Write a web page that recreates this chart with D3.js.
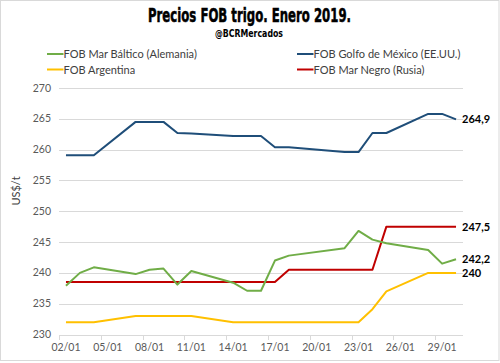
<!DOCTYPE html>
<html>
  <head>
    <meta charset="utf-8">
    <title>Precios FOB trigo</title>
    <script src="https://cdn.jsdelivr.net/npm/d3@7"></script>
    <style>
      body { margin: 0; background: #fff; }
      svg { display: block; font-family: Lato, "Open Sans", sans-serif; }
      .tick-label { font-size: 10.5px; fill: #595959; }
      .legend text { font-size: 11px; fill: #404040; }
      .end-label { font-size: 11px; font-weight: bold; fill: #000; }
    </style>
  </head>

  <body>
    <svg id="chart" width="500" height="363"></svg>

    <script>
      // every calendar day on the axis
      allDays = d3.range(2, 31).map(function(d) {
        return d3.format("02")(d) + "/01";
      });
      labelDays = ["02/01", "05/01", "08/01", "11/01", "14/01", "17/01", "20/01", "23/01", "26/01", "29/01"];

      // trading days with prices
      days = ["02/01", "03/01", "04/01", "07/01", "08/01", "09/01", "10/01", "11/01", "14/01", "15/01",
              "16/01", "17/01", "18/01", "21/01", "22/01", "23/01", "24/01", "25/01", "28/01", "29/01", "30/01"];

      baltico = [237.9, 240.0, 240.9, 239.8, 240.5, 240.7, 238.1, 240.3, 238.4, 237.1,
                 237.1, 242.0, 242.8, null, 244.0, 246.8, 245.4, 244.8, 243.7, 241.5, 242.2];
      golfo = [259.1, 259.1, 259.1, 264.5, 264.5, 264.5, 262.7, 262.6, 262.2, 262.2,
               262.2, 260.4, 260.4, null, 259.6, 259.6, 262.7, 262.7, 265.8, 265.8, 264.9];
      argentina = [232, 232, 232, 233, 233, 233, 233, 233, 232, 232,
                   232, 232, 232, 232, 232, 232, 234.1, 237.0, 240, 240, 240];
      negro = [238.5, 238.5, 238.5, 238.5, 238.5, 238.5, 238.5, 238.5, 238.5, 238.5,
               238.5, 238.5, 240.5, 240.5, 240.5, 240.5, 240.5, 247.5, 247.5, 247.5, 247.5];

      yTicks = [230, 235, 240, 245, 250, 255, 260, 265, 270];

      series = [
        {name: "FOB Mar Báltico (Alemania)", values: baltico, colour: "#70AD47"},
        {name: "FOB Golfo de México (EE.UU.)", values: golfo, colour: "#1F4E79"},
        {name: "FOB Argentina", values: argentina, colour: "#FFC000"},
        {name: "FOB Mar Negro (Rusia)", values: negro, colour: "#C00000"}
      ];

      svg = d3.select("#chart");

      // outer frame
      svg.append("rect")
        .attr("x", 0.5)
        .attr("y", 0.5)
        .attr("width", 498.5)
        .attr("height", 360)
        .attr("fill", "#fff")
        .attr("stroke", "#d9d9d9");

      // titles (condensed heavy face squeezed to the original width)
      svg.append("text")
        .attr("x", 148)
        .attr("y", 22)
        .attr("textLength", 203)
        .attr("lengthAdjust", "spacingAndGlyphs")
        .style("font-family", "'Liberation Sans Narrow', 'DejaVu Sans Condensed', sans-serif")
        .style("font-weight", "bold")
        .style("font-size", "19px")
        .style("fill", "#000")
        .style("stroke", "#000")
        .style("stroke-width", 0.5)
        .text("Precios FOB trigo. Enero 2019.");
      svg.append("text")
        .attr("x", 215)
        .attr("y", 36.5)
        .attr("textLength", 68)
        .attr("lengthAdjust", "spacingAndGlyphs")
        .style("font-family", "'Liberation Sans Narrow', 'DejaVu Sans Condensed', sans-serif")
        .style("font-weight", "bold")
        .style("font-size", "11px")
        .style("fill", "#000")
        .text("@BCRMercados");

      // scales
      x = d3.scaleBand()
        .domain(allDays)
        .range([59, 463]);
      xc = function(d) { return x(d) + x.bandwidth() / 2; };
      y = d3.scaleLinear()
        .domain([230, 270])
        .range([334.5, 88]);

      // gridlines
      svg.append("g")
        .selectAll("line")
        .data(yTicks.slice(1))
        .enter().append("line")
          .attr("x1", 59)
          .attr("x2", 463)
          .attr("y1", function(d) { return Math.round(y(d)) + 0.5; })
          .attr("y2", function(d) { return Math.round(y(d)) + 0.5; })
          .attr("stroke", "#d9d9d9");

      // y labels
      svg.append("g")
        .selectAll("text")
        .data(yTicks)
        .enter().append("text")
          .attr("class", "tick-label")
          .attr("x", 51)
          .attr("y", function(d) { return y(d) + 3.5; })
          .attr("text-anchor", "end")
          .text(function(d) { return d; });

      svg.append("text")
        .attr("transform", "translate(20, 191) rotate(-90)")
        .attr("text-anchor", "middle")
        .style("font-size", "11px")
        .style("fill", "#404040")
        .text("US$/t");

      // x axis
      xAxis = svg.append("g");
      xAxis.append("line")
        .attr("x1", 59)
        .attr("x2", 463)
        .attr("y1", Math.round(y(230)) + 0.5)
        .attr("y2", Math.round(y(230)) + 0.5)
        .attr("stroke", "#d9d9d9");
      xAxis.selectAll(".tick")
        .data(labelDays)
        .enter().append("line")
          .attr("class", "tick")
          .attr("x1", function(d) { return Math.round(x(d)) + 0.5; })
          .attr("x2", function(d) { return Math.round(x(d)) + 0.5; })
          .attr("y1", Math.round(y(230)))
          .attr("y2", Math.round(y(230)) + 5)
          .attr("stroke", "#d9d9d9");
      xAxis.selectAll("text")
        .data(labelDays)
        .enter().append("text")
          .attr("class", "tick-label")
          .attr("x", xc)
          .attr("y", 351)
          .attr("text-anchor", "middle")
          .text(function(d) { return d; });

      // lines
      line = d3.line()
        .x(function(d) { return xc(d.day); })
        .y(function(d) { return y(d.value); });

      series.forEach(function(s) {
        s.points = days.map(function(d, i) {
          return {day: d, value: s.values[i]};
        }).filter(function(d) {
          return d.value != null;
        });
      });

      // draw in original stacking order
      [series[3], series[2], series[0], series[1]].forEach(function(s) {
        svg.append("path")
          .datum(s.points)
          .attr("d", line)
          .attr("fill", "none")
          .attr("stroke", s.colour)
          .attr("stroke-width", 2)
          .attr("stroke-linejoin", "round");
      });

      // end labels
      svg.append("g")
        .selectAll("text")
        .data(series)
        .enter().append("text")
          .attr("class", "end-label")
          .attr("x", 462)
          .attr("y", function(d) {
            var last = d.points[d.points.length - 1];
            return y(last.value) + 4;
          })
          .text(function(d) {
            var last = d.points[d.points.length - 1];
            return String(last.value).replace(".", ",");
          });

      // legend
      legendPos = [[47, 54], [297, 54], [47, 69.5], [297, 69.5]];
      legend = svg.append("g")
        .attr("class", "legend")
        .selectAll("g")
        .data(series)
        .enter().append("g")
          .attr("transform", function(d, i) {
            return "translate(" + legendPos[i][0] + "," + legendPos[i][1] + ")";
          });
      legend.append("line")
        .attr("x1", 0)
        .attr("x2", 16.5)
        .attr("stroke", function(d) { return d.colour; })
        .attr("stroke-width", 2);
      legend.append("text")
        .attr("x", 16.5)
        .attr("y", 4)
        .text(function(d) { return d.name; });
    </script>
  </body>
</html>
